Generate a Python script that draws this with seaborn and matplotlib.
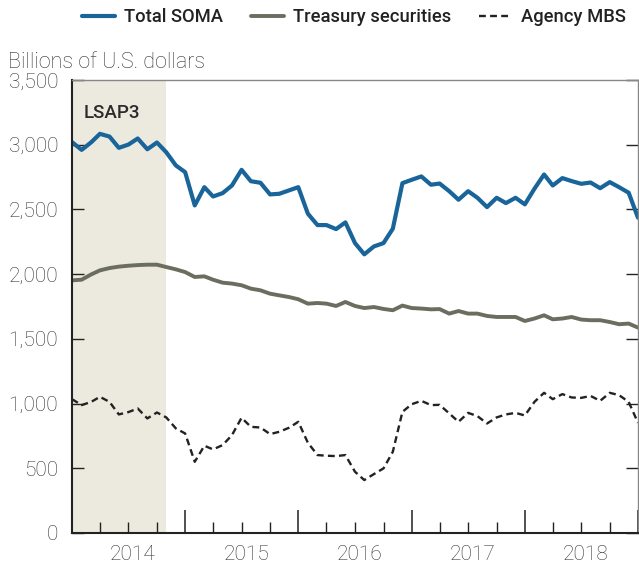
import pandas as pd
import matplotlib
matplotlib.use("Agg")
import matplotlib.pyplot as plt
import matplotlib.dates as mdates
from matplotlib.ticker import FuncFormatter
import seaborn as sns

# Monthly SOMA holdings, Dec 2013 - Dec 2018 (billions of U.S. dollars)
months = pd.date_range("2013-12-01", periods=61, freq="MS")

total_soma = [3020, 2960, 3019, 3084, 3063, 2976, 3001, 3048, 2965, 3017,
              2942, 2840, 2788, 2531, 2672, 2600, 2626, 2685, 2806, 2718,
              2706, 2616, 2621, 2647, 2672, 2467, 2379, 2379, 2348, 2400,
              2240, 2153, 2214, 2240, 2351, 2703, 2729, 2755, 2691, 2700,
              2641, 2575, 2641, 2590, 2518, 2590, 2549, 2590, 2539, 2660,
              2770, 2685, 2742, 2719, 2698, 2708, 2664, 2711, 2672, 2629, 2436]

treasury = [1952, 1957, 1998, 2029, 2047, 2058, 2065, 2070, 2073, 2073,
            2055, 2037, 2016, 1978, 1983, 1957, 1934, 1927, 1914, 1888,
            1875, 1849, 1836, 1823, 1806, 1772, 1777, 1772, 1754, 1785,
            1754, 1738, 1746, 1731, 1721, 1757, 1738, 1734, 1728, 1730,
            1695, 1715, 1695, 1695, 1677, 1669, 1669, 1669, 1638, 1657,
            1682, 1651, 1657, 1669, 1649, 1644, 1644, 1630, 1613, 1618, 1587]

agency_mbs = [1034, 988, 1013, 1052, 1013, 916, 934, 962, 885, 931,
              893, 808, 769, 550, 674, 646, 679, 756, 890, 820,
              815, 764, 782, 813, 859, 697, 602, 597, 594, 602,
              473, 409, 455, 499, 627, 936, 995, 1021, 988, 990,
              924, 859, 928, 903, 846, 893, 916, 928, 908, 1013,
              1083, 1034, 1073, 1047, 1044, 1059, 1021, 1083, 1065, 1013, 851]

# LSAP3 shading period
lsap3_start = "2013-12-01"
lsap3_end = "2014-10-01"

years = [2014, 2015, 2016, 2017, 2018]

df = pd.DataFrame({"date": months, "Total SOMA": total_soma,
                   "Treasury securities": treasury, "Agency MBS": agency_mbs})

sns.set_style("white")
plt.rcParams["font.family"] = ["Roboto", "DejaVu Sans"]

fig = plt.figure(figsize=(6.39, 5.67), dpi=100)
ax = fig.add_axes([0.1127, 0.0600, 0.8857, 0.7989])

blue = "#19659a"
grey = "#6b6d5e"

ax.axvspan(pd.Timestamp(lsap3_start), pd.Timestamp(lsap3_end), color="#ece9df", lw=0, zorder=0)

sns.lineplot(data=df, x="date", y="Total SOMA", color=blue, lw=3.0, ax=ax, label="Total SOMA")
sns.lineplot(data=df, x="date", y="Treasury securities", color=grey, lw=2.8, ax=ax,
             label="Treasury securities")
sns.lineplot(data=df, x="date", y="Agency MBS", color="#222222", lw=1.7, ax=ax,
             label="Agency MBS", linestyle=(0, (2.9, 1.8)))

ax.set_xlim(months[0], months[-1])
ax.set_ylim(0, 3500)
ax.set_xlabel("")
ax.set_ylabel("")

# y axis
ax.set_yticks(range(0, 3501, 500))
ax.yaxis.set_major_formatter(FuncFormatter(lambda v, p: f"{int(v):,}"))
ax.tick_params(axis="y", direction="in", length=8.5, width=1.0, color="#222222",
               left=True, right=True, pad=10, labelsize=15, labelcolor="#333333")
for lab in ax.get_yticklabels():
    lab.set_fontweight("light")

# x axis: long ticks at December, short ticks at other quarters
ax.xaxis.set_major_locator(mdates.MonthLocator(bymonth=[12]))
ax.xaxis.set_minor_locator(mdates.MonthLocator(bymonth=[3, 6, 9]))
ax.tick_params(axis="x", which="major", direction="in", length=16.5, width=1.1,
               color="#222222", labelbottom=False, bottom=True)
ax.tick_params(axis="x", which="minor", direction="in", length=8, width=1.0,
               color="#222222", bottom=True)

sec = ax.secondary_xaxis("bottom")
sec.set_xticks([pd.Timestamp(f"{y}-06-16") for y in years])
sec.set_xticklabels([str(y) for y in years])
sec.tick_params(axis="x", length=0, pad=9, labelsize=15, labelcolor="#333333")
sec.spines["bottom"].set_visible(False)
for lab in sec.get_xticklabels():
    lab.set_fontweight("light")

for side in ["left", "bottom"]:
    ax.spines[side].set_color("#222222")
    ax.spines[side].set_linewidth(1.5)
for side in ["top", "right"]:
    ax.spines[side].set_color("#888888")
    ax.spines[side].set_linewidth(1.0)

ax.text(0.021, 0.948, "LSAP3", transform=ax.transAxes, ha="left", va="top",
        fontsize=13.5, fontweight="medium", color="#2b2b2b")

fig.text(8 / 639, 1 - 62 / 567, "Billions of U.S. dollars", ha="left", va="center",
         fontsize=15.5, fontweight="light", color="#333333")

handles, labels = ax.get_legend_handles_labels()
ax.get_legend().remove()
leg = fig.legend(handles, labels, loc="upper right", bbox_to_anchor=(1.005, 1.015), ncol=3,
                 frameon=False, handlelength=1.8, columnspacing=1.5, handletextpad=0.5,
                 prop={"size": 13.2, "weight": "medium"})
for t in leg.get_texts():
    t.set_color("#222222")

fig.savefig("out.png", dpi=100)
